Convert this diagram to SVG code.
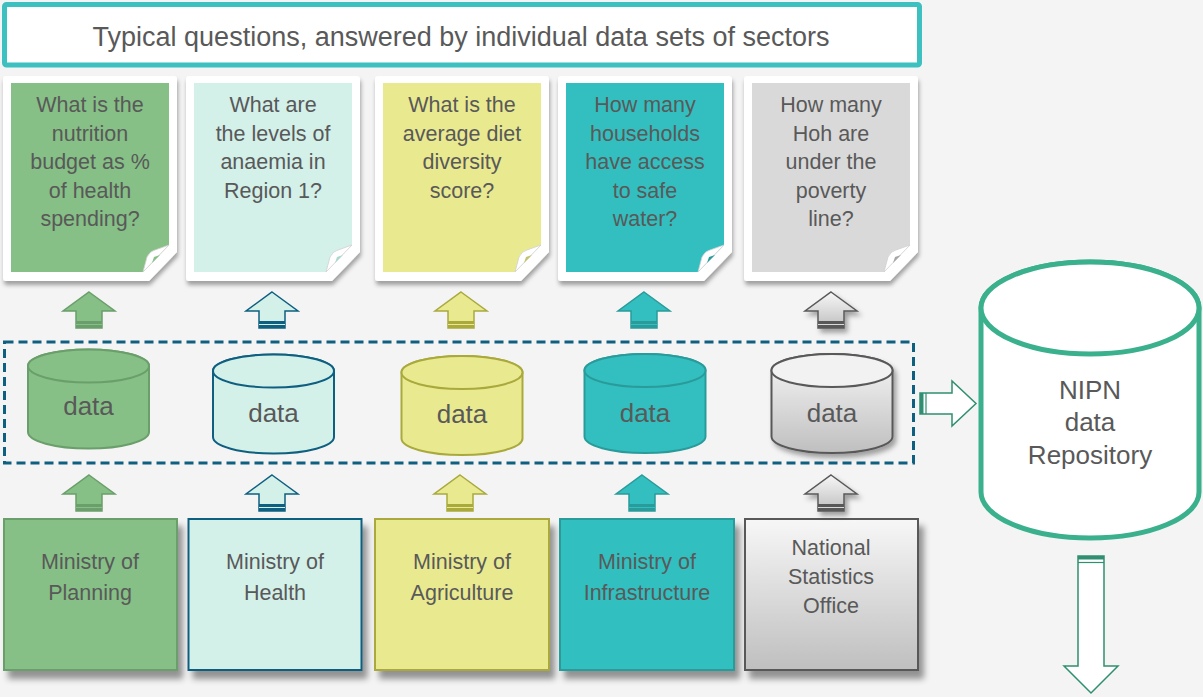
<svg xmlns="http://www.w3.org/2000/svg" width="1203" height="697" viewBox="0 0 1203 697">
<defs>
<style>
.t{font-family:"Liberation Sans",Arial,sans-serif;fill:#595959;text-anchor:middle}
.q{font-size:21.5px}
.frame{fill:#ffffff}
.flap{fill:#ffffff;stroke:#d0d0d0;stroke-width:0.8}
.dash{fill:none;stroke:#0e5f80;stroke-width:3;stroke-dasharray:9 5}
</style>
<linearGradient id="gg" x1="0" y1="0" x2="0" y2="1">
<stop offset="0" stop-color="#f7f7f7"/><stop offset="1" stop-color="#bfbfbf"/>
</linearGradient>
<filter id="sh" x="-10%" y="-10%" width="130%" height="130%">
<feDropShadow dx="5" dy="8" stdDeviation="3" flood-color="#000" flood-opacity="0.4"/>
</filter>
<filter id="csh" x="-10%" y="-10%" width="130%" height="130%">
<feDropShadow dx="1" dy="4" stdDeviation="2" flood-color="#000" flood-opacity="0.35"/>
</filter>
<filter id="ssh" x="-20%" y="-20%" width="150%" height="150%">
<feDropShadow dx="3" dy="4" stdDeviation="2.5" flood-color="#000" flood-opacity="0.35"/>
</filter>
<path id="outer" d="M3,0 H171 Q174,0 174,3 V176 L146,205 H3 Q0,205 0,202 V3 Q0,0 3,0 Z"/>
<path id="inner" d="M8,7 H166 V169 L140,196 H8 Z"/>
<path id="flap" d="M140,196 L144,181 Q147,175 152,174 L166,169 Z"/>
<path id="hole" d="M149,187 L151,181 L157,179 Z"/>
<path id="uarrow" d="M0,0 L26,19 H13 V36 H-13 V19 H-26 Z"/>
</defs>
<rect x="0" y="0" width="1203" height="697" fill="#f4f4f4"/>

<g id="title">
<rect x="4.5" y="4.5" width="915" height="60.5" rx="2" fill="#ffffff" stroke="#3cc0c0" stroke-width="5"/>
<text class="t" x="461" y="46" font-size="27">Typical questions, answered by individual data sets of sectors</text>
</g>

<g id="q1" transform="translate(3,76)">
<use href="#outer" class="frame" filter="url(#csh)"/>
<use href="#inner" fill="#86c086"/>
<use href="#flap" class="flap"/>
<use href="#hole" fill="#86c086"/>
<text class="t q" x="87"><tspan x="87" y="36">What is the</tspan><tspan x="87" y="64.5">nutrition</tspan><tspan x="87" y="93">budget as %</tspan><tspan x="87" y="121.5">of health</tspan><tspan x="87" y="150">spending?</tspan></text>
</g>
<g id="q2" transform="translate(186,76)">
<use href="#outer" class="frame" filter="url(#csh)"/>
<use href="#inner" fill="#d3f0e9"/>
<use href="#flap" class="flap"/>
<use href="#hole" fill="#a9d8cc"/>
<text class="t q" x="87"><tspan x="87" y="36">What are</tspan><tspan x="87" y="64.5">the levels of</tspan><tspan x="87" y="93">anaemia in</tspan><tspan x="87" y="121.5">Region 1?</tspan></text>
</g>
<g id="q3" transform="translate(375,76)">
<use href="#outer" class="frame" filter="url(#csh)"/>
<use href="#inner" fill="#e9e990"/>
<use href="#flap" class="flap"/>
<use href="#hole" fill="#c2c270"/>
<text class="t q" x="87"><tspan x="87" y="36">What is the</tspan><tspan x="87" y="64.5">average diet</tspan><tspan x="87" y="93">diversity</tspan><tspan x="87" y="121.5">score?</tspan></text>
</g>
<g id="q4" transform="translate(558,76)">
<use href="#outer" class="frame" filter="url(#csh)"/>
<use href="#inner" fill="#33bfbf"/>
<use href="#flap" class="flap"/>
<use href="#hole" fill="#2a9b9b"/>
<text class="t q" x="87"><tspan x="87" y="36">How many</tspan><tspan x="87" y="64.5">households</tspan><tspan x="87" y="93">have access</tspan><tspan x="87" y="121.5">to safe</tspan><tspan x="87" y="150">water?</tspan></text>
</g>
<g id="q5" transform="translate(744,76)">
<use href="#outer" class="frame" filter="url(#csh)"/>
<use href="#inner" fill="#d9d9d9"/>
<use href="#flap" class="flap"/>
<use href="#hole" fill="#a6a6a6"/>
<text class="t q" x="87"><tspan x="87" y="36">How many</tspan><tspan x="87" y="64.5">Hoh are</tspan><tspan x="87" y="93">under the</tspan><tspan x="87" y="121.5">poverty</tspan><tspan x="87" y="150">line?</tspan></text>
</g>

<g id="datasets">
<rect class="dash" x="4.5" y="342" width="909" height="121"/>
</g>

<g id="d1" transform="translate(88.5,366)">
<path d="M-60.5,0 V66 A60.5,16.5 0 0 0 60.5,66 V0 A60.5,16.5 0 0 0 -60.5,0 Z" fill="#86c086" stroke="#6a9e6a" stroke-width="2"/>
<ellipse cx="0" cy="0" rx="60.5" ry="16.5" fill="#86c086" stroke="#6a9e6a" stroke-width="2"/>
<text class="t" x="0" y="49" font-size="26">data</text>
</g>
<g id="d2" transform="translate(273.5,371)">
<path d="M-60.5,0 V66 A60.5,16.5 0 0 0 60.5,66 V0 A60.5,16.5 0 0 0 -60.5,0 Z" fill="#d3f0e9" stroke="#0e5f80" stroke-width="2"/>
<ellipse cx="0" cy="0" rx="60.5" ry="16.5" fill="#d3f0e9" stroke="#0e5f80" stroke-width="2"/>
<text class="t" x="0" y="51" font-size="26">data</text>
</g>
<g id="d3" transform="translate(462,372.5)">
<path d="M-60.5,0 V66 A60.5,16.5 0 0 0 60.5,66 V0 A60.5,16.5 0 0 0 -60.5,0 Z" fill="#e9e990" stroke="#a9a93c" stroke-width="2"/>
<ellipse cx="0" cy="0" rx="60.5" ry="16.5" fill="#e9e990" stroke="#a9a93c" stroke-width="2"/>
<text class="t" x="0" y="50" font-size="26">data</text>
</g>
<g id="d4" transform="translate(645,370.5)">
<path d="M-60.5,0 V66 A60.5,16.5 0 0 0 60.5,66 V0 A60.5,16.5 0 0 0 -60.5,0 Z" fill="#33bfbf" stroke="#2a9b9b" stroke-width="2"/>
<ellipse cx="0" cy="0" rx="60.5" ry="16.5" fill="#33bfbf" stroke="#2a9b9b" stroke-width="2"/>
<text class="t" x="0" y="51" font-size="26">data</text>
</g>
<g id="d5" transform="translate(832,370.5)">
<path d="M-60.5,0 V66 A60.5,16.5 0 0 0 60.5,66 V0 A60.5,16.5 0 0 0 -60.5,0 Z" fill="url(#gg)" stroke="#595959" stroke-width="2" filter="url(#ssh)"/>
<ellipse cx="0" cy="0" rx="60.5" ry="16.5" fill="#f2f2f2" stroke="#595959" stroke-width="2"/>
<text class="t" x="0" y="51" font-size="26">data</text>
</g>

<g id="m1">
<rect x="4" y="519" width="173" height="151" fill="#86c086" stroke="#6a9e6a" stroke-width="2" filter="url(#sh)"/>
<text class="t q"><tspan x="90" y="569">Ministry of</tspan><tspan x="90" y="600">Planning</tspan></text>
</g>
<g id="m2">
<rect x="188.5" y="519" width="173" height="151" fill="#d3f0e9" stroke="#0e5f80" stroke-width="2" filter="url(#sh)"/>
<text class="t q"><tspan x="275" y="569">Ministry of</tspan><tspan x="275" y="600">Health</tspan></text>
</g>
<g id="m3">
<rect x="375" y="519" width="174" height="151" fill="#e9e990" stroke="#a9a93c" stroke-width="2" filter="url(#sh)"/>
<text class="t q"><tspan x="462" y="569">Ministry of</tspan><tspan x="462" y="600">Agriculture</tspan></text>
</g>
<g id="m4">
<rect x="560" y="519" width="174" height="151" fill="#33bfbf" stroke="#2a9b9b" stroke-width="2" filter="url(#sh)"/>
<text class="t q"><tspan x="647" y="569">Ministry of</tspan><tspan x="647" y="600">Infrastructure</tspan></text>
</g>
<g id="m5">
<rect x="745" y="519" width="173" height="151" fill="url(#gg)" stroke="#595959" stroke-width="2" filter="url(#sh)"/>
<text class="t q"><tspan x="831" y="555">National</tspan><tspan x="831" y="584">Statistics</tspan><tspan x="831" y="613">Office</tspan></text>
</g>

<g id="repo">
<path d="M981,308 V492 A109,46 0 0 0 1199,492 V308 A109,46 0 0 0 981,308 Z" fill="#ffffff" stroke="#3ab08c" stroke-width="5"/>
<ellipse cx="1090" cy="308" rx="109" ry="46" fill="#ffffff" stroke="#3ab08c" stroke-width="5"/>
<text class="t" font-size="26"><tspan x="1090" y="399">NIPN</tspan><tspan x="1090" y="431">data</tspan><tspan x="1090" y="464">Repository</tspan></text>
</g>

<g id="connectors">
<g transform="translate(89,292)"><use href="#uarrow" fill="#86c086" stroke="#6a9e6a" stroke-width="1.5"/><rect x="-13" y="29" width="26" height="7" fill="#6a9e6a"/><line x1="-13" y1="32.5" x2="13" y2="32.5" stroke="#86c086" stroke-width="1"/></g>
<g transform="translate(272,292)"><use href="#uarrow" fill="#d3f0e9" stroke="#0e5f80" stroke-width="1.5"/><rect x="-13" y="29" width="26" height="7" fill="#0e5f80"/><line x1="-13" y1="32.5" x2="13" y2="32.5" stroke="#d3f0e9" stroke-width="1"/></g>
<g transform="translate(461,292)"><use href="#uarrow" fill="#e9e990" stroke="#a9a93c" stroke-width="1.5"/><rect x="-13" y="29" width="26" height="7" fill="#a9a93c"/><line x1="-13" y1="32.5" x2="13" y2="32.5" stroke="#e9e990" stroke-width="1"/></g>
<g transform="translate(644,292)"><use href="#uarrow" fill="#33bfbf" stroke="#2a9b9b" stroke-width="1.5"/><rect x="-13" y="29" width="26" height="7" fill="#2a9b9b"/><line x1="-13" y1="32.5" x2="13" y2="32.5" stroke="#33bfbf" stroke-width="1"/></g>
<g transform="translate(831,292)" filter="url(#ssh)"><use href="#uarrow" fill="url(#gg)" stroke="#595959" stroke-width="1.5"/><rect x="-13" y="29" width="26" height="7" fill="#595959"/><line x1="-13" y1="32.5" x2="13" y2="32.5" stroke="#d9d9d9" stroke-width="1"/></g>

<g transform="translate(89,475)"><use href="#uarrow" fill="#86c086" stroke="#6a9e6a" stroke-width="1.5"/><rect x="-13" y="29" width="26" height="7" fill="#6a9e6a"/><line x1="-13" y1="32.5" x2="13" y2="32.5" stroke="#86c086" stroke-width="1"/></g>
<g transform="translate(272,475)"><use href="#uarrow" fill="#d3f0e9" stroke="#0e5f80" stroke-width="1.5"/><rect x="-13" y="29" width="26" height="7" fill="#0e5f80"/><line x1="-13" y1="32.5" x2="13" y2="32.5" stroke="#d3f0e9" stroke-width="1"/></g>
<g transform="translate(460,475)"><use href="#uarrow" fill="#e9e990" stroke="#a9a93c" stroke-width="1.5"/><rect x="-13" y="29" width="26" height="7" fill="#a9a93c"/><line x1="-13" y1="32.5" x2="13" y2="32.5" stroke="#e9e990" stroke-width="1"/></g>
<g transform="translate(642,475)"><use href="#uarrow" fill="#33bfbf" stroke="#2a9b9b" stroke-width="1.5"/><rect x="-13" y="29" width="26" height="7" fill="#2a9b9b"/><line x1="-13" y1="32.5" x2="13" y2="32.5" stroke="#33bfbf" stroke-width="1"/></g>
<g transform="translate(831,475)" filter="url(#ssh)"><use href="#uarrow" fill="url(#gg)" stroke="#595959" stroke-width="1.5"/><rect x="-13" y="29" width="26" height="7" fill="#595959"/><line x1="-13" y1="32.5" x2="13" y2="32.5" stroke="#d9d9d9" stroke-width="1"/></g>

<g>
<path d="M920,393 H952 V381 L976,403.5 L952,426 V414 H920 Z" fill="#ffffff" stroke="#2f8f70" stroke-width="1.5"/>
<rect x="920" y="393" width="3.5" height="21" fill="#2f8f70"/>
<line x1="926" y1="393" x2="926" y2="414" stroke="#2f8f70" stroke-width="1.2"/>
</g>
<g>
<path d="M1078,556 H1104 V666 H1118 L1091,693 L1064,666 H1078 Z" fill="#ffffff" stroke="#2f8f70" stroke-width="1.5"/>
<rect x="1078" y="556" width="26" height="3.5" fill="#2f8f70"/>
<line x1="1078" y1="562.5" x2="1104" y2="562.5" stroke="#2f8f70" stroke-width="1.2"/>
</g>
</g>
</svg>
